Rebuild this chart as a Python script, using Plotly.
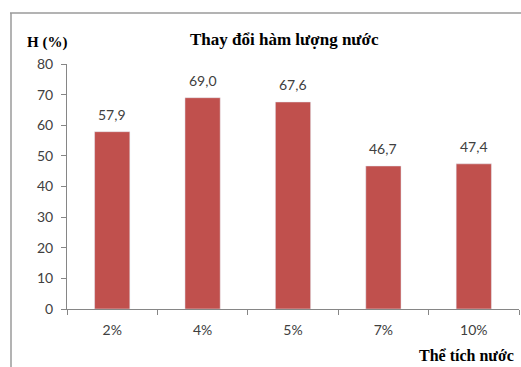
import plotly.graph_objects as go

categories = ["2%", "4%", "5%", "7%", "10%"]
values = [57.9, 69.0, 67.6, 46.7, 47.4]
y_ticks = [0, 10, 20, 30, 40, 50, 60, 70, 80]

W, H = 521, 367
L, R, T, B = 67, 2, 64, 58
pw, ph = W - L - R, H - T - B

def px(x):
    return (x - L) / pw

def py(y):
    return (H - B - y) / ph

fig = go.Figure(go.Bar(
    x=categories, y=values, marker_color="#C0504D", width=0.39,
))

axis_font = dict(family="Lato", size=14, color="#404040")
label_font = dict(family="Lato", size=14, color="#404040")

annotations = [
    dict(x=c, y=v, text=f"{v:.1f}".replace(".", ","), xref="x", yref="y",
         showarrow=False, yanchor="bottom", xanchor="center", yshift=7, font=label_font)
    for c, v in zip(categories, values)
]
annotations += [
    dict(text="<b>Thay đổi hàm lượng nước</b>", x=px(284), y=py(40), xref="paper", yref="paper",
         xanchor="center", yanchor="middle",
         showarrow=False, font=dict(family="Liberation Serif", size=17, color="black")),
    dict(text="<b>H (%)</b>", x=px(47), y=py(42), xref="paper", yref="paper",
         xanchor="center", yanchor="middle",
         showarrow=False, font=dict(family="Liberation Serif", size=15, color="black")),
    dict(text="<b>Thể tích nước</b>", x=px(466), y=py(355), xref="paper", yref="paper",
         xanchor="center", yanchor="middle",
         showarrow=False, font=dict(family="Liberation Serif", size=16, color="black")),
]

fig.update_layout(
    width=W, height=H, margin=dict(l=L, r=R, t=T, b=B),
    paper_bgcolor="white", plot_bgcolor="white", showlegend=False,
    xaxis=dict(type="category", tickson="boundaries", ticks="outside", ticklen=5,
               tickcolor="#868686", showline=True, linecolor="#868686",
               showgrid=False, tickfont=axis_font, range=[-0.5, 4.5],
               ticklabelstandoff=8),
    yaxis=dict(range=[0, 80], tickvals=y_ticks, ticks="outside", ticklen=5,
               tickcolor="#868686", showline=True, linecolor="#868686",
               showgrid=False, tickfont=axis_font, zeroline=False,
               ticklabelstandoff=5),
    annotations=annotations,
    shapes=[
        dict(type="line", xref="paper", yref="paper", x0=px(10), x1=px(521), y0=py(13), y1=py(13),
             line=dict(color="#9a9a9a", width=1.5)),
        dict(type="line", xref="paper", yref="paper", x0=px(11), x1=px(11), y0=py(13), y1=py(367),
             line=dict(color="#9a9a9a", width=1.5)),
    ],
)

fig.write_html("out.html")
